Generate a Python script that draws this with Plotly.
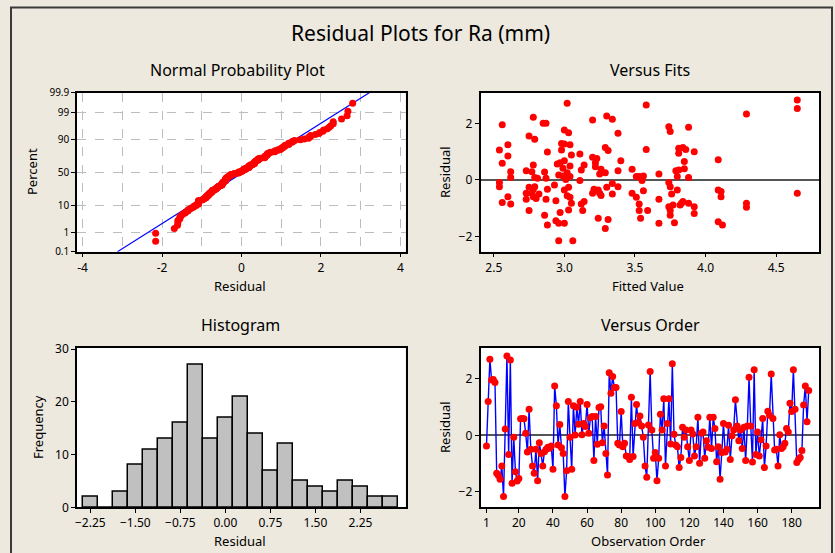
import plotly.graph_objects as go
from statistics import NormalDist, mean, stdev

# ---------------- data ----------------
# residuals in observation order (Versus Order panel)
residuals = [
    -0.38, 1.19, 2.68, 1.95, 1.97, 1.86, -1.34, -1.42, -1.55, -1.08,
    -2.16, 0.22, 2.80, -0.68, 2.66, -1.69, -0.07, -1.29, -1.61, -1.52,
    0.58, 0.59, 0.58, 0.07, -0.59, 0.92, -0.49, -1.08, -1.34, -0.49,
    -1.60, -0.26, -0.64, -1.08, -0.58, -0.49, -0.42, -0.46, -0.38, -1.20,
    1.74, 1.04, -0.34, 0.38, -0.44, -0.64, -2.16, -1.25, 1.19, -0.07,
    -1.20, 1.04, 0.01, 0.99, 0.39, 1.19, 0.02, 0.42, 0.31, 1.09,
    0.07, 0.62, 0.66, -0.89, 0.66, -0.32, 0.98, 1.01, -0.26, 0.33,
    -0.64, -1.40, 2.21, 1.48, 2.07, 1.69, 1.69, -0.28, -0.34, 0.84,
    -0.40, -0.28, -0.73, -0.75, -0.85, 1.34, -0.75, 0.42, 1.09, 0.45,
    0.68, 0.33, -0.07, -1.08, -1.48, 0.36, 2.25, 0.19, -0.81, -0.61,
    -1.60, -0.81, 0.74, 0.19, 1.29, -1.08, 0.42, 1.29, -0.31, 2.52,
    0.04, -0.34, -0.40, -1.14, -0.78, 0.28, -0.07, 0.19, -0.40, -0.89,
    0.19, 0.05, -0.73, -0.40, 0.64, -0.99, 0.07, 0.12, -0.81, -0.19,
    -0.42, 0.64, -0.47, 0.64, 0.24, -0.93, -0.40, -1.55, -0.61, 0.42,
    -0.59, -0.49, 0.35, -0.85, -0.02, 0.19, 1.25, 0.33, -0.19, 0.19,
    -0.47, 0.28, -0.89, 0.33, 2.05, 0.33, -0.94, 2.31, -0.68, 0.12,
    -0.73, -0.16, 0.59, -1.14, -0.38, 0.85, 0.71, 2.16, 0.59, -0.52,
    -0.49, -1.08, 0.02, -0.47, -0.40, -0.28, 0.24, 0.12, 1.13, 0.84,
    2.31, 0.92, -0.96, -0.85, -0.78, -0.54, 1.07, 1.74, 0.48, 1.58,
]

# Versus Fits panel: fitted values and their residuals
fitted_values = [
    2.54, 2.54, 2.54, 2.56, 2.56, 2.56, 2.60, 2.60, 2.60, 2.62, 2.62, 2.62,
    2.73, 2.73, 2.73, 2.75, 2.75, 2.75, 2.77, 2.77, 2.78, 2.78, 2.78, 2.78,
    2.79, 2.79, 2.79, 2.80, 2.81, 2.82, 2.85, 2.86, 2.86, 2.87, 2.87, 2.87,
    2.88, 2.88, 2.88, 2.93, 2.94, 2.94, 2.95, 2.96, 2.96, 2.96, 2.97, 2.97,
    2.98, 2.98, 2.99, 2.99, 3.00, 3.00, 3.00, 3.00, 3.00, 3.01, 3.02, 3.02,
    3.02, 3.03, 3.03, 3.03, 3.04, 3.04, 3.04, 3.04, 3.05, 3.05, 3.06,
    3.11, 3.11, 3.12, 3.12, 3.13, 3.14, 3.14, 3.20, 3.20, 3.20, 3.21, 3.22,
    3.22, 3.23, 3.24, 3.24, 3.25, 3.25, 3.26, 3.26, 3.29, 3.29, 3.29, 3.30,
    3.30, 3.31, 3.31, 3.34, 3.34, 3.34, 3.38, 3.38, 3.38, 3.40,
    3.48, 3.48, 3.51, 3.51, 3.53, 3.53, 3.53, 3.54, 3.55, 3.56, 3.56,
    3.58, 3.58, 3.59, 3.67, 3.67, 3.67, 3.74, 3.74, 3.74, 3.75, 3.75, 3.75,
    3.75, 3.76, 3.77, 3.78, 3.79, 3.80, 3.80, 3.81, 3.81, 3.81, 3.82, 3.83,
    3.84, 3.84, 3.85, 3.85, 3.86, 3.88, 3.88, 3.88, 3.92, 3.92, 3.92,
    4.09, 4.09, 4.09, 4.11, 4.11, 4.12, 4.29, 4.29, 4.29, 4.65, 4.65, 4.65,
]
fitted_residuals = [
    1.06, -0.09, -0.24, 1.95, 0.59, -0.79, 1.24, 0.85, -0.59, 0.29, 0.09, -0.85,
    0.33, -0.47, -0.68, 1.55, -0.26, -1.08, 0.29, -0.47, 0.53, -0.33, -0.59, 2.21,
    0.09, 1.44, -0.24, -0.65, 0.06, -0.49, 2.00, 0.28, -1.24, 2.00, 0.06, -0.68,
    0.99, -0.33, -1.59, -0.18, -0.73, -1.44, 0.56, 0.18, -1.53, -2.14, 0.61, -1.15,
    1.29, 1.06, 0.41, 0.14, 1.76, -0.35, -1.53, 0.68, 1.27, 0.02, 2.71, 0.26,
    -0.56, 1.67, -0.26, -1.06, 0.12, -0.61, 1.24, 0.49, -0.82, 0.88, -2.14,
    0.92, -0.02, 0.35, -0.85, -1.08, 0.53, -0.76, 2.12, 0.80, -0.47, -0.33, 0.61,
    0.47, 0.76, -0.35, -1.35, 0.21, -0.47, 0.38, -0.55, 1.15, 0.26, -1.71, 2.26,
    -0.26, 1.04, -1.39, 2.14, -0.12, -0.49, 1.65, 0.33, -0.24, 0.68,
    0.38, -0.47, 0.12, -0.61, 0.12, -0.85, -1.08, -1.35, -0.02, 0.14, -0.38,
    2.65, 1.08, -1.08, 0.21, -0.68, -1.53, 1.88, -0.09, -0.94, 1.71, -1.08, -1.24,
    -0.24, -0.49, -0.88, -1.51, 0.33, 0.12, -0.35, 0.94, 0.35, 1.12, -0.88, -0.82,
    1.15, -0.76, 0.65, 0.40, 1.08, 1.86, 0.09, -0.82, 1.00, -0.94, -1.18,
    0.71, -0.35, -1.47, -0.41, -0.59, -1.59, 2.33, -0.82, -0.96, 2.82, 2.52, -0.47,
]

# Histogram panel
hist_centers = [-2.25, -2.00, -1.75, -1.50, -1.25, -1.00, -0.75, -0.50, -0.25, 0.00, 0.25,
                0.50, 0.75, 1.00, 1.25, 1.50, 1.75, 2.00, 2.25, 2.50, 2.75]
hist_counts = [2, 0, 3, 8, 11, 13, 16, 27, 13, 17, 21, 14, 7, 12, 5, 4, 3, 5, 4, 2, 2]
hist_ticks = [-2.25, -1.50, -0.75, 0.00, 0.75, 1.50, 2.25]

# Normal probability axis labels (percent)
pct_ticks = [0.1, 1, 10, 50, 90, 99, 99.9]
pct_labels = ["0.1", "1", "10", "50", "90", "99", "99.9"]
order_ticks = [1, 20, 40, 60, 80, 100, 120, 140, 160, 180]

# ---------------- styling ----------------
FONT = "Noto Sans"
BG = "#EDE9DF"
W, H = 835, 553

def px_x(p):
    return p / W

def px_y(p):
    return 1 - p / H

nd = NormalDist()

fig = go.Figure()

# ----- Normal probability plot -----
n = len(residuals)
sorted_res = sorted(residuals)
npp_z = [nd.inv_cdf((i + 1 - 0.3) / (n + 0.4)) for i in range(n)]
mu, sd = mean(residuals), stdev(residuals)
z_ends = [nd.inv_cdf(pct_ticks[0] / 100), nd.inv_cdf(pct_ticks[-1] / 100)]
fig.add_trace(go.Scatter(x=[mu + sd * z for z in z_ends], y=z_ends, mode="lines",
                         line=dict(color="#0000FF", width=1.2),
                         xaxis="x", yaxis="y", showlegend=False, hoverinfo="skip"))
fig.add_trace(go.Scatter(x=sorted_res, y=npp_z, mode="markers",
                         marker=dict(color="#FF0000", size=7),
                         xaxis="x", yaxis="y", showlegend=False))

# ----- Versus fits -----
fig.add_trace(go.Scatter(x=fitted_values, y=fitted_residuals, mode="markers",
                         marker=dict(color="#FF0000", size=7),
                         xaxis="x2", yaxis="y2", showlegend=False))

# ----- Histogram -----
fig.add_trace(go.Bar(x=hist_centers, y=hist_counts, width=0.25,
                     marker=dict(color="#C0C0C0", line=dict(color="black", width=1.5)),
                     xaxis="x3", yaxis="y3", showlegend=False))

# ----- Versus order -----
obs = list(range(1, n + 1))
fig.add_trace(go.Scatter(x=obs, y=residuals, mode="lines+markers",
                         line=dict(color="#0000FF", width=1.4),
                         marker=dict(color="#FF0000", size=7),
                         xaxis="x4", yaxis="y4", showlegend=False))

def axis(**kw):
    base = dict(showline=True, linecolor="black", linewidth=1.5, mirror=True,
                ticks="outside", ticklen=4, tickcolor="black", tickwidth=1,
                showgrid=False, zeroline=False, automargin=False,
                tickfont=dict(family=FONT, size=12, color="black"))
    base.update(kw)
    return base

dom_top_y = [px_y(251.7), px_y(92.7)]
dom_bot_y = [px_y(507.3), px_y(347.7)]
dom_left_x = [px_x(77), px_x(405.5)]
dom_right_x = [px_x(480.5), px_x(819.3)]

fig.update_layout(
    width=W, height=H,
    margin=dict(l=0, r=0, t=0, b=0, pad=0, autoexpand=False),
    paper_bgcolor=BG, plot_bgcolor="white",
    font=dict(family=FONT, color="black"),
    bargap=0,
    xaxis=axis(domain=dom_left_x, anchor="y", range=[-4.14, 4.13],
               tickvals=[-4, -2, 0, 2, 4], ticktext=["-4", "-2", "0", "2", "4"],
               showgrid=True, gridcolor="#BDBDBD", griddash="dash", gridwidth=1,
               minor=dict(dtick=1, tick0=0, showgrid=True, gridcolor="#BDBDBD",
                          griddash="dash", ticks="")),
    yaxis=axis(domain=dom_top_y, anchor="x",
               range=[nd.inv_cdf(0.001), nd.inv_cdf(0.999)],
               tickvals=[nd.inv_cdf(p / 100) for p in pct_ticks], ticktext=pct_labels,
               tickfont=dict(family=FONT, size=10, color="black"),
               showgrid=True, gridcolor="#BDBDBD", griddash="dash", gridwidth=1),
    xaxis2=axis(domain=dom_right_x, anchor="y2", range=[2.406, 4.806],
                tickvals=[2.5, 3.0, 3.5, 4.0, 4.5], tickformat=".1f"),
    yaxis2=axis(domain=dom_top_y, anchor="x2", range=[-2.53, 3.08],
                tickvals=[-2, 0, 2], zeroline=True, zerolinecolor="#555555",
                zerolinewidth=1.5),
    xaxis3=axis(domain=dom_left_x, anchor="y3", range=[-2.472, 3.0],
                tickvals=hist_ticks, tickformat=".2f"),
    yaxis3=axis(domain=dom_bot_y, anchor="x3", range=[0, 30.3],
                tickvals=[0, 10, 20, 30]),
    xaxis4=axis(domain=dom_right_x, anchor="y4", range=[-2.5, 196.2],
                tickvals=order_ticks),
    yaxis4=axis(domain=dom_bot_y, anchor="x4", range=[-2.54, 3.09],
                tickvals=[-2, 0, 2], zeroline=True, zerolinecolor="#555555",
                zerolinewidth=1.5),
)

def label(text, x, y, size, angle=0):
    fig.add_annotation(text=text, x=px_x(x), y=px_y(y), xref="paper", yref="paper",
                       showarrow=False, xanchor="center", yanchor="middle",
                       textangle=angle, font=dict(family=FONT, size=size, color="black"))

label("Residual Plots for Ra (mm)", 420, 33, 21)
label("Normal Probability Plot", 238, 70, 16)
label("Versus Fits", 650, 70, 16)
label("Histogram", 240, 325, 16)
label("Versus Order", 650, 325, 16)
label("Residual", 240, 285.5, 13)
label("Percent", 32, 172, 13, -90)
label("Fitted Value", 648, 285.5, 13)
label("Residual", 445, 172, 13, -90)
label("Residual", 240, 541, 13)
label("Frequency", 38, 427, 13, -90)
label("Observation Order", 648, 541, 13)
label("Residual", 445, 427, 13, -90)

# outer panel frame
fig.add_shape(type="rect", xref="paper", yref="paper",
              x0=px_x(11), x1=px_x(832), y0=px_y(570), y1=px_y(7.5),
              line=dict(color="#3A3A3A", width=2), fillcolor="rgba(0,0,0,0)", layer="below")

fig.write_html("out.html")
